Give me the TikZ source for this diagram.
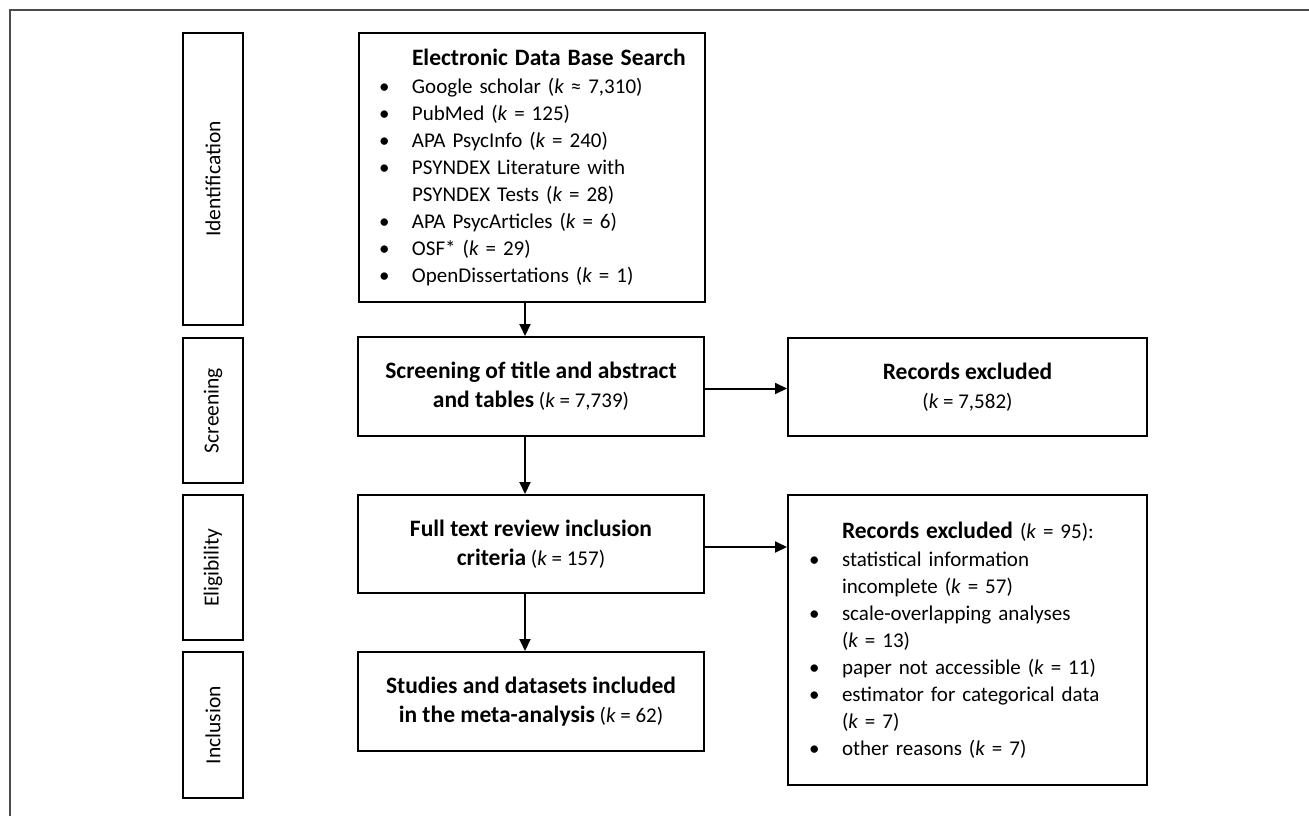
\documentclass[tikz,border=0pt]{standalone}
\usepackage{fontspec}
\setmainfont{Carlito}
\usetikzlibrary{arrows.meta}
\newcommand{\kk}{{\itshape k}}
\newcommand{\bul}{\makebox[33pt][l]{\textbullet}}
\newcommand{\ind}{\hspace*{33pt}}
\newcommand{\hd}[1]{{\fontsize{23.5}{29}\selectfont\bfseries #1}}
\begin{document}
\begin{tikzpicture}[x=1pt,y=-1pt,
  every node/.style={font=\fontsize{21}{27}\selectfont},
  stagebox/.style={draw,line width=2pt,rotate=90,minimum height=60pt,inner sep=0pt,font=\fontsize{21.5}{27}\selectfont},
  flowbox/.style={draw,line width=2pt,align=center,inner sep=0pt,minimum width=346pt,font=\fontsize{21}{29}\selectfont},
  listbox/.style={draw,line width=2pt,align=left,inner xsep=20pt,inner ysep=0pt},
  arrowline/.style={line width=2pt,-{Triangle[length=12pt,width=11pt]}}]
\useasboundingbox (0,0) rectangle (1309,816);
\draw [line width=1.3pt,black!70] (10,816) -- (10,10) -- (1309,10);
\node [stagebox,minimum width=292pt] (ident) at (213,179) {Identification};
\node [stagebox,minimum width=145pt] (screenstage) at (213,410.5) {Screening};
\node [stagebox,minimum width=145pt] (eligstage) at (213,567.5) {Eligibility};
\node [stagebox,minimum width=146pt] (inclstage) at (213,725) {Inclusion};
\node [listbox,text width=306pt,minimum height=269pt] (elec) at (532,167.5) {%
\mbox{\ind\hd{Electronic Data Base Search}}\\[1pt]
\bul Google scholar (\kk{} ≈ 7,310)\\
\bul PubMed (\kk{} = 125)\\
\bul APA PsycInfo (\kk{} = 240)\\
\bul PSYNDEX Literature with\\
\ind PSYNDEX Tests (\kk{} = 28)\\
\bul APA PsycArticles (\kk{} = 6)\\
\bul OSF* (\kk{} = 29)\\
\bul OpenDissertations (\kk{} = 1)};
\node [flowbox,minimum height=99pt] (screen) at (531,386.5) {\hd{Screening of title and abstract}\\\hd{and tables} (\kk{} = 7,739)};
\node [flowbox,minimum width=359pt,minimum height=98pt] (rec1) at (967.5,387) {\hd{Records excluded}\\(\kk{} = 7,582)};
\node [flowbox,minimum height=98pt] (full) at (531,544) {\hd{Full text review inclusion}\\\hd{criteria} (\kk{} = 157)};
\node [listbox,inner xsep=21pt,text width=317pt,minimum height=290pt] (rec2) at (967.5,640) {%
\mbox{\ind\hd{Records excluded} (\kk{} = 95):}\\[1pt]
\bul statistical information\\
\ind incomplete (\kk{} = 57)\\
\bul scale-overlapping analyses\\
\ind (\kk{} = 13)\\
\bul paper not accessible (\kk{} = 11)\\
\bul estimator for categorical data\\
\ind (\kk{} = 7)\\
\bul other reasons (\kk{} = 7)};
\node [flowbox,minimum height=99pt] (studies) at (531,701.5) {\hd{Studies and datasets included}\\\hd{in the meta-analysis} (\kk{} = 62)};
\draw [arrowline] ([xshift=-7pt]elec.south) -- ([xshift=-6pt]screen.north);
\draw [arrowline] ([yshift=-2pt]screen.east) -- ([yshift=-2pt]screen.east -| rec1.west);
\draw [arrowline] ([xshift=-6pt]screen.south) -- ([xshift=-6pt]full.north);
\draw [arrowline] ([yshift=-3pt]full.east) -- ([yshift=-3pt]full.east -| rec2.west);
\draw [arrowline] ([xshift=-6pt]full.south) -- ([xshift=-6pt]studies.north);
\end{tikzpicture}
\end{document}
